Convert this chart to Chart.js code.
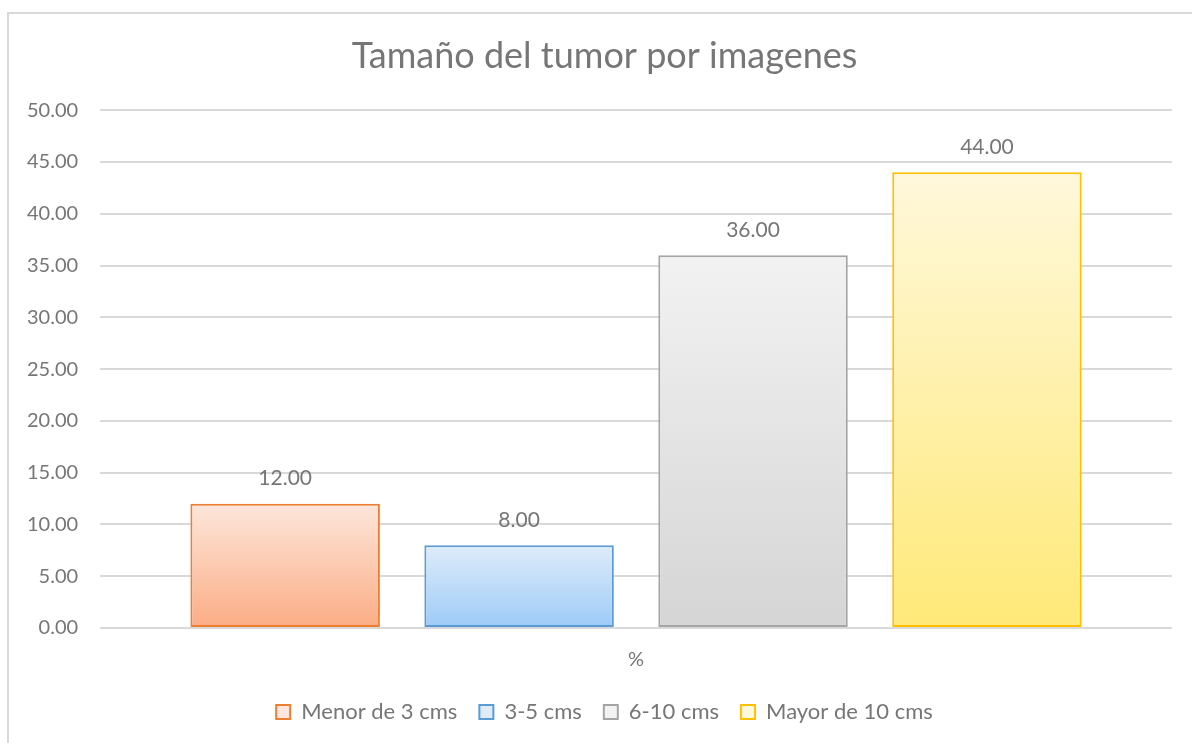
<!DOCTYPE html>
<html>
<head>
<meta charset="utf-8">
<script src="https://cdn.jsdelivr.net/npm/chart.js@4"></script>
<style>
  html, body { margin: 0; padding: 0; background: #fff; }
  #wrap { position: relative; width: 1192px; height: 743px; overflow: hidden; }
  #frame { position: absolute; left: 7px; top: 12px; width: 1300px; height: 800px; border: 2px solid #d9d9d9; box-sizing: border-box; }
  canvas { position: absolute; left: 0; top: 0; }
</style>
</head>
<body>
<div id="wrap">
  <div id="frame"></div>
  <canvas id="tumorChart" width="1192" height="743"></canvas>
</div>
<script>
const categories = ['%'];
const seriesNames = ['Menor de 3 cms', '3-5 cms', '6-10 cms', 'Mayor de 10 cms'];
const seriesValues = [12, 8, 36, 44];
const yTicks = [0, 5, 10, 15, 20, 25, 30, 35, 40, 45, 50];

const borderColors = ['#ED7D31', '#5B9BD5', '#A5A5A5', '#FFC000'];
const topColors = ['#FDE6DB', '#DEECFA', '#F2F2F2', '#FFF8DB'];
const bottomColors = ['#FBAD85', '#9DCBF7', '#D5D5D5', '#FFE978'];

const textColor = '#767676';
const fontFamily = 'Lato, "Open Sans", sans-serif';

function barGradient(index) {
    return function (context) {
        const chart = context.chart;
        const yScale = chart.scales.y;
        if (!yScale || !chart.chartArea) return topColors[index];
        const yTop = yScale.getPixelForValue(seriesValues[index]);
        const yBase = yScale.getPixelForValue(0);
        const g = chart.ctx.createLinearGradient(0, yTop, 0, yBase);
        g.addColorStop(0, topColors[index]);
        g.addColorStop(1, bottomColors[index]);
        return g;
    };
}

const valueLabels = {
    id: 'valueLabels',
    afterDatasetsDraw(chart) {
        const ctx = chart.ctx;
        ctx.save();
        ctx.font = '21px ' + fontFamily;
        ctx.fillStyle = textColor;
        ctx.textAlign = 'center';
        ctx.textBaseline = 'middle';
        chart.data.datasets.forEach((ds, i) => {
            const meta = chart.getDatasetMeta(i);
            meta.data.forEach((bar, j) => {
                ctx.fillText(ds.data[j].toFixed(2), bar.x, bar.y - 25);
            });
        });
        ctx.restore();
    }
};

// title and legend sit a bit right of centre in the original
const shiftBlocks = {
    id: 'shiftBlocks',
    afterLayout(chart) {
        [chart.titleBlock, chart.legend].forEach(b => {
            if (b) {
                b.left += 16;
                b.right += 16;
            }
        });
    }
};

const datasets = seriesNames.map((name, i) => ({
    label: name,
    data: [seriesValues[i]],
    backgroundColor: barGradient(i),
    borderColor: borderColors[i],
    borderWidth: 2,
    borderSkipped: false
}));

new Chart(document.getElementById('tumorChart').getContext('2d'), {
    type: 'bar',
    data: {
        labels: categories,
        datasets: datasets
    },
    options: {
        responsive: false,
        animation: false,
        datasets: {
            bar: {
                categoryPercentage: 0.873,
                barPercentage: 0.81
            }
        },
        layout: {
            padding: { left: 5, right: 20, top: 35, bottom: 10 }
        },
        plugins: {
            title: {
                display: true,
                text: 'Tamaño del tumor por imagenes',
                color: textColor,
                font: { family: fontFamily, size: 36, weight: 'normal' },
                padding: { top: 0, bottom: 32 }
            },
            legend: {
                position: 'bottom',
                labels: {
                    color: textColor,
                    font: { family: fontFamily, size: 22 },
                    boxWidth: 14,
                    boxHeight: 14,
                    padding: 22,
                    generateLabels(chart) {
                        return chart.data.datasets.map((ds, i) => ({
                            text: ds.label,
                            fillStyle: topColors[i],
                            strokeStyle: borderColors[i],
                            lineWidth: 2,
                            fontColor: textColor,
                            datasetIndex: i
                        }));
                    }
                }
            },
            tooltip: { enabled: false }
        },
        scales: {
            x: {
                grid: { display: false, drawTicks: false },
                border: { display: false },
                ticks: {
                    color: textColor,
                    font: { family: fontFamily, size: 20 },
                    padding: 20
                },
                afterFit(scale) {
                    scale.height -= 13;
                }
            },
            y: {
                min: 0,
                max: 50,
                afterBuildTicks(scale) {
                    scale.ticks = yTicks.map(v => ({ value: v }));
                },
                grid: { color: '#d9d9d9', lineWidth: 2, drawTicks: false },
                border: { display: false },
                ticks: {
                    color: textColor,
                    font: { family: fontFamily, size: 20 },
                    padding: 22,
                    callback: v => Number(v).toFixed(2)
                }
            }
        }
    },
    plugins: [valueLabels, shiftBlocks]
});
</script>
</body>
</html>
